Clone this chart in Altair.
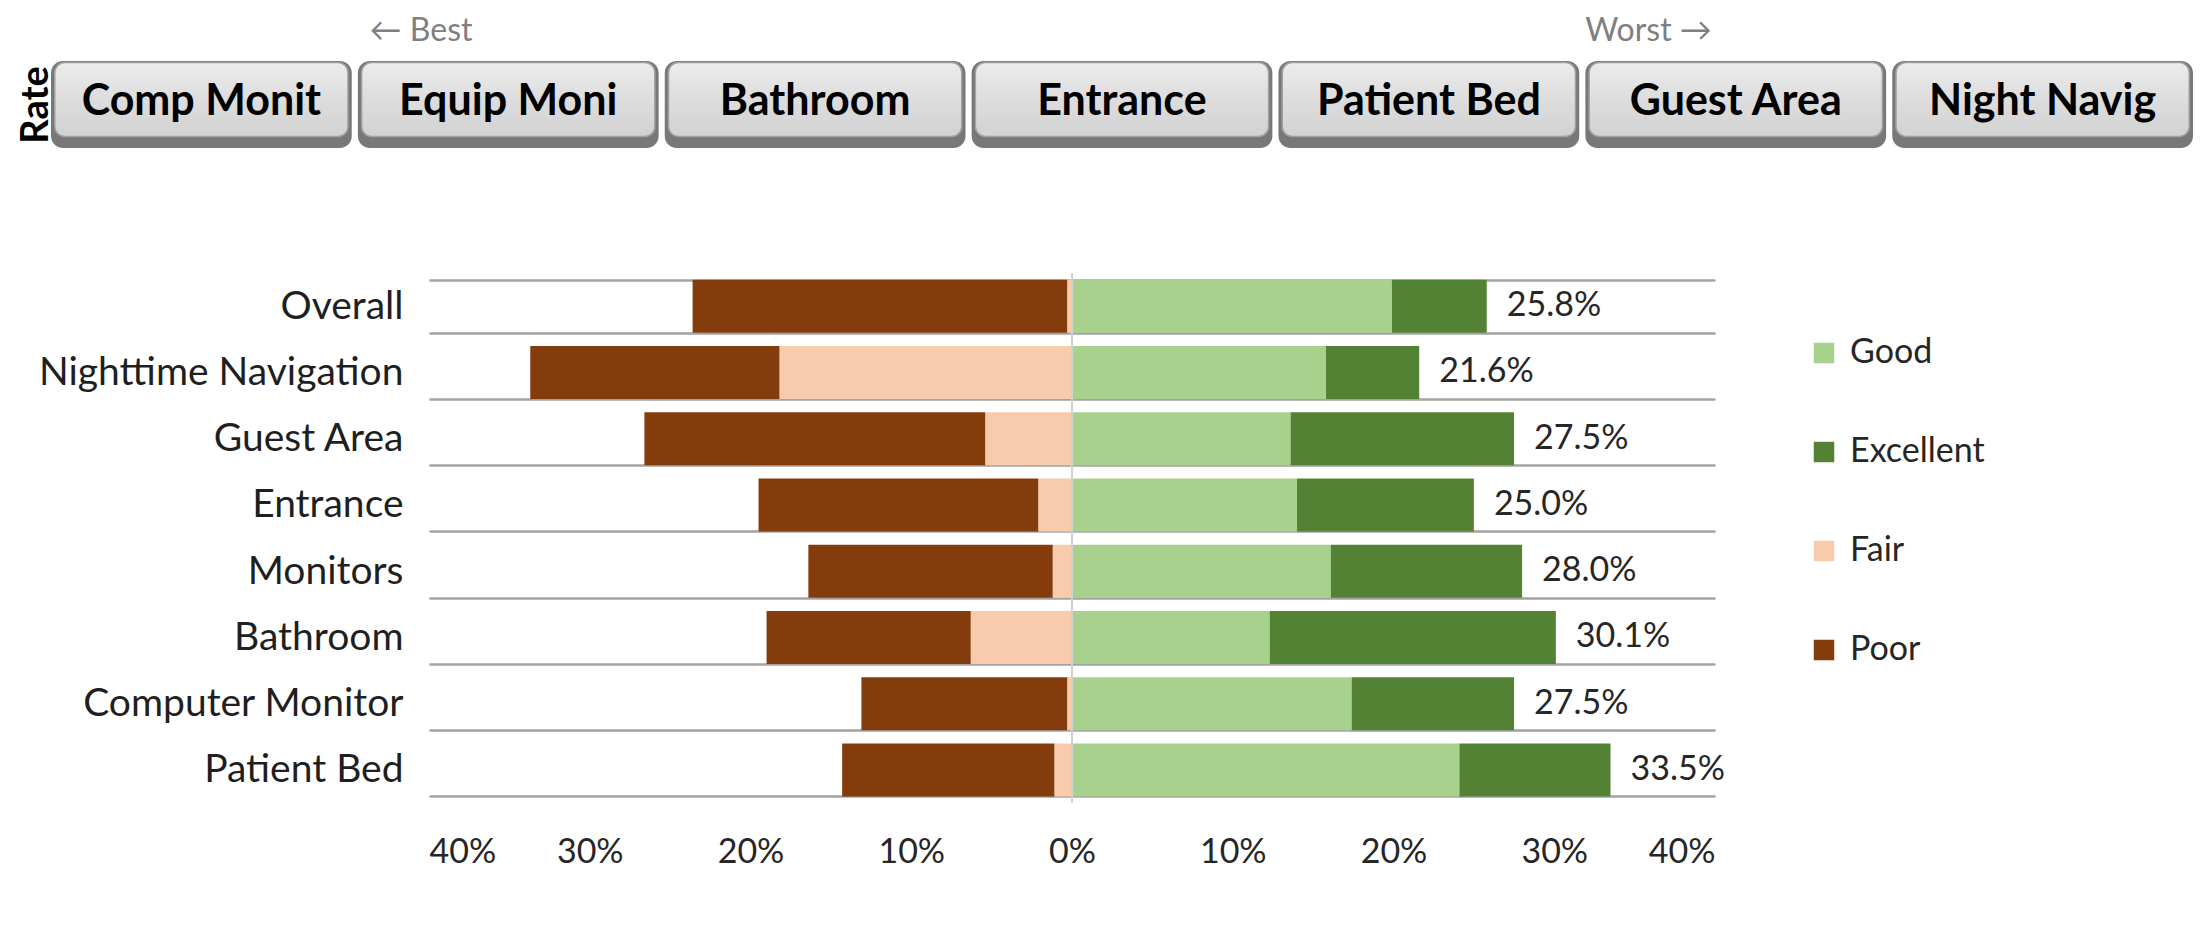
import altair as alt
import pandas as pd

# ---------------- data ----------------
categories = ["Overall", "Nighttime Navigation", "Guest Area", "Entrance",
              "Monitors", "Bathroom", "Computer Monitor", "Patient Bed"]
poor = [23.3, 15.5, 21.2, 17.4, 15.2, 12.7, 12.8, 13.2]
fair = [0.3, 18.2, 5.4, 2.1, 1.2, 6.3, 0.3, 1.1]
good = [19.9, 15.8, 13.6, 14.0, 16.1, 12.3, 17.4, 24.1]
excellent = [5.9, 5.8, 13.9, 11.0, 11.9, 17.8, 10.1, 9.4]
totals = [25.8, 21.6, 27.5, 25.0, 28.0, 30.1, 27.5, 33.5]

levels = ["Good", "Excellent", "Fair", "Poor"]
level_colors = ["#A9D18E", "#548235", "#F8CBAD", "#843C0C"]
x_ticks = [-40, -30, -20, -10, 0, 10, 20, 30, 40]

buttons = ["Comp Monit", "Equip Moni", "Bathroom", "Entrance",
           "Patient Bed", "Guest Area", "Night Navig"]
slicer_title = "Rate"
hint_anchor = ["Equip Moni", "Guest Area"]
hint_text = ["\u2190 Best", "Worst \u2192"]

# ---------------- tables ----------------
rows = []
for i, c in enumerate(categories):
    rows.append(dict(cat=c, level="Good", value=good[i], ord=0))
    rows.append(dict(cat=c, level="Excellent", value=excellent[i], ord=1))
    rows.append(dict(cat=c, level="Fair", value=-fair[i], ord=0))
    rows.append(dict(cat=c, level="Poor", value=-poor[i], ord=1))
bars_df = pd.DataFrame(rows)
labels_df = pd.DataFrame({"cat": categories, "total": totals,
                          "text": [f"{v:.1f}%" for v in totals]})
zero_df = pd.DataFrame({"z": [0]})
btn_df = pd.DataFrame({"btn": buttons, "row": [slicer_title] * len(buttons)})
hint_df = pd.DataFrame({"anchor": hint_anchor, "hint": hint_text,
                        "row": [slicer_title] * len(hint_anchor)})

TXT = "#262626"

# ---------------- main diverging bar chart ----------------
xscale = alt.Scale(domain=[-40, 40], nice=False)
yscale = alt.Scale(domain=categories, paddingInner=0.2, paddingOuter=0.1)

x_axis = alt.Axis(values=x_ticks, labelExpr="abs(datum.value) + '%'", title=None,
                  grid=False, domain=False, ticks=False, tickSize=0,
                  labelPadding=32, labelFontSize=34, labelColor=TXT)
y_axis = alt.Axis(title=None, orient="left", tickBand="extent", grid=True,
                  gridColor="#a3a3a3", gridWidth=2.5, domain=False, ticks=False,
                  tickSize=0, labelPadding=26, labelFontSize=39,
                  labelColor="#1f1f1f", labelLimit=600)

bars = alt.Chart(bars_df).mark_bar().encode(
    x=alt.X("value:Q", stack="zero", scale=xscale, axis=x_axis, title=None),
    y=alt.Y("cat:N", scale=yscale, sort=categories, axis=y_axis, title=None),
    color=alt.Color("level:N", scale=alt.Scale(domain=levels, range=level_colors),
                    legend=alt.Legend(orient="none", legendX=1378, legendY=63,
                                      title=None, symbolType="square",
                                      symbolSize=420, symbolStrokeWidth=0,
                                      labelFontSize=34, labelColor=TXT,
                                      rowPadding=65, labelOffset=9, padding=0)),
    order=alt.Order("ord:Q"),
)

zero_rule = alt.Chart(zero_df).mark_rule(color="#d0d0d0", strokeWidth=2).encode(
    x=alt.X("z:Q", scale=xscale, axis=x_axis, title=None)
)

value_labels = alt.Chart(labels_df).mark_text(
    align="left", baseline="middle", dx=20, fontSize=34, color=TXT
).encode(
    x=alt.X("total:Q", scale=xscale, axis=x_axis, title=None),
    y=alt.Y("cat:N", scale=yscale, sort=categories, axis=y_axis, title=None),
    text="text:N",
)

main = alt.layer(bars, zero_rule, value_labels)

# ---------------- slicer buttons ----------------
bx = alt.Scale(domain=buttons, range=[-378, 1764], paddingInner=0.02, paddingOuter=0)
by = alt.Scale(domain=[slicer_title], range=[-212, -125], paddingInner=0, paddingOuter=0)
by_axis = alt.Axis(title=slicer_title, orient="left", labels=False, ticks=False,
                   domain=False, grid=False, offset=382, titleFontSize=38,
                   titleFontWeight="bold", titleColor="#000000", titlePadding=0,
                   titleBaseline="alphabetic", minExtent=0, maxExtent=0)

bx_enc = alt.X("btn:N", scale=bx, sort=buttons, axis=None)
by_enc = alt.Y("row:N", scale=by, axis=by_axis, title=slicer_title)

shadow = alt.Chart(btn_df).mark_rect(cornerRadius=12, color="#787878").encode(
    x=bx_enc, y=by_enc)

face = alt.Chart(btn_df).mark_rect(
    cornerRadius=10, width={"band": 0.975}, height={"band": 0.85}, yOffset=-5,
    fill={"gradient": "linear", "x1": 0, "y1": 0, "x2": 0, "y2": 1,
          "stops": [{"offset": 0, "color": "#ececec"},
                    {"offset": 0.5, "color": "#dddddd"},
                    {"offset": 1, "color": "#d2d2d2"}]},
    stroke="#a0a0a0", strokeWidth=1.5,
).encode(x=bx_enc, y=by_enc)

btn_text = alt.Chart(btn_df).mark_text(
    fontSize=43, fontWeight="bold", color="#000000", baseline="middle", dy=-3
).encode(x=bx_enc, y=by_enc, text="btn:N")

hints = alt.Chart(hint_df).mark_text(
    fontSize=32, color="#7f7f7f", baseline="middle", dy=-30
).encode(
    x=alt.X("anchor:N", scale=bx, sort=buttons, axis=None, bandPosition=0.21),
    y=alt.Y("row:N", scale=by, axis=by_axis, title=slicer_title, bandPosition=0),
    text="hint:N",
)

decor = alt.layer(shadow, face, btn_text, hints)

chart = alt.layer(main, decor).resolve_scale(
    x="independent", y="independent"
).properties(
    width=1286, height=530,
    autosize=alt.AutoSizeParams(type="none"),
    padding={"left": 421, "top": 265, "right": 480, "bottom": 110},
).configure(font="Lato").configure_view(stroke=None)

chart.save("out.html", embed_options={"renderer": "svg", "actions": False})
